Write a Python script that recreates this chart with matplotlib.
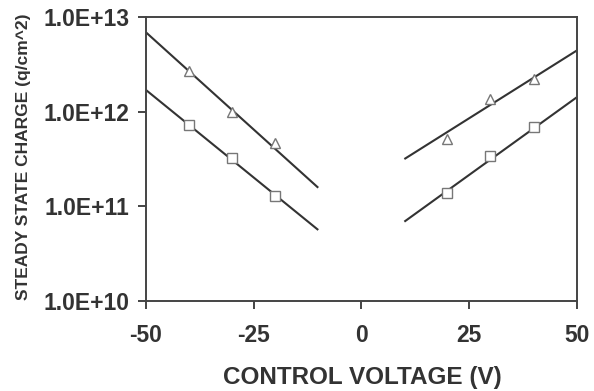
import numpy as np
import matplotlib
matplotlib.use("Agg")
import matplotlib.pyplot as plt

plt.rcParams['font.family'] = ['Liberation Sans', 'DejaVu Sans']

# measured points
volt_neg = [-40, -30, -20]
volt_pos = [20, 30, 40]
tri_neg = [2.72e12, 1.0e12, 4.68e11]
sq_neg = [7.25e11, 3.24e11, 1.29e11]
tri_pos = [5.15e11, 1.36e12, 2.22e12]
sq_pos = [1.39e11, 3.41e11, 6.9e11]

# fitted lines (end points)
fit_x_neg = [-50, -10]
fit_x_pos = [10, 50]
fit_tri_neg = [6.93e12, 1.57e11]
fit_sq_neg = [1.70e12, 5.61e10]
fit_tri_pos = [3.16e11, 4.44e12]
fit_sq_pos = [6.87e10, 1.42e12]

x_ticks = [-50, -25, 0, 25, 50]
y_ticks = [1e10, 1e11, 1e12, 1e13]
y_labels = ["1.0E+10", "1.0E+11", "1.0E+12", "1.0E+13"]

text_col = '#333333'
line_col = '#333333'
mark_col = '#777777'

fig = plt.figure(figsize=(5.94, 3.91), dpi=100)
ax = fig.add_axes([0.2458, 0.2309, 0.7249, 0.7248])

for fx, fy in [(fit_x_neg, fit_tri_neg), (fit_x_neg, fit_sq_neg),
               (fit_x_pos, fit_tri_pos), (fit_x_pos, fit_sq_pos)]:
    ax.plot(fx, fy, color=line_col, lw=1.5, solid_capstyle='butt')

for vx, vy, m in [(volt_neg, tri_neg, '^'), (volt_neg, sq_neg, 's'),
                  (volt_pos, tri_pos, '^'), (volt_pos, sq_pos, 's')]:
    ax.plot(vx, vy, linestyle='none', marker=m, markersize=6.5,
            markerfacecolor='white', markeredgecolor=mark_col,
            markeredgewidth=1.0, zorder=3)

ax.set_yscale('log')
ax.set_xlim(-50, 50)
ax.set_ylim(1e10, 1e13)
ax.set_xticks(x_ticks)
ax.set_xticklabels([str(v) for v in x_ticks])
ax.set_yticks(y_ticks)
ax.set_yticklabels(y_labels)
ax.yaxis.set_minor_locator(matplotlib.ticker.NullLocator())

for s in ax.spines.values():
    s.set_color('#444444')
    s.set_linewidth(1.4)

ax.tick_params(axis='both', direction='out', length=6, width=1.4,
               color='#444444', labelsize=16.5, labelcolor=text_col)
ax.tick_params(axis='x', pad=11)
ax.tick_params(axis='y', pad=6)
for lab in ax.get_xticklabels() + ax.get_yticklabels():
    lab.set_fontweight('bold')

fig.text(362.5 / 594, 0.0179, "CONTROL VOLTAGE (V)", ha='center',
         va='baseline', fontsize=17.5, fontweight='bold', color=text_col)
fig.text(28.3 / 594, 0.5997, "STEADY STATE CHARGE (q/cm^2)", rotation=90,
         rotation_mode='anchor', ha='center', va='baseline',
         fontsize=12.5, fontweight='bold', color=text_col)

fig.savefig("out.png", dpi=100)
